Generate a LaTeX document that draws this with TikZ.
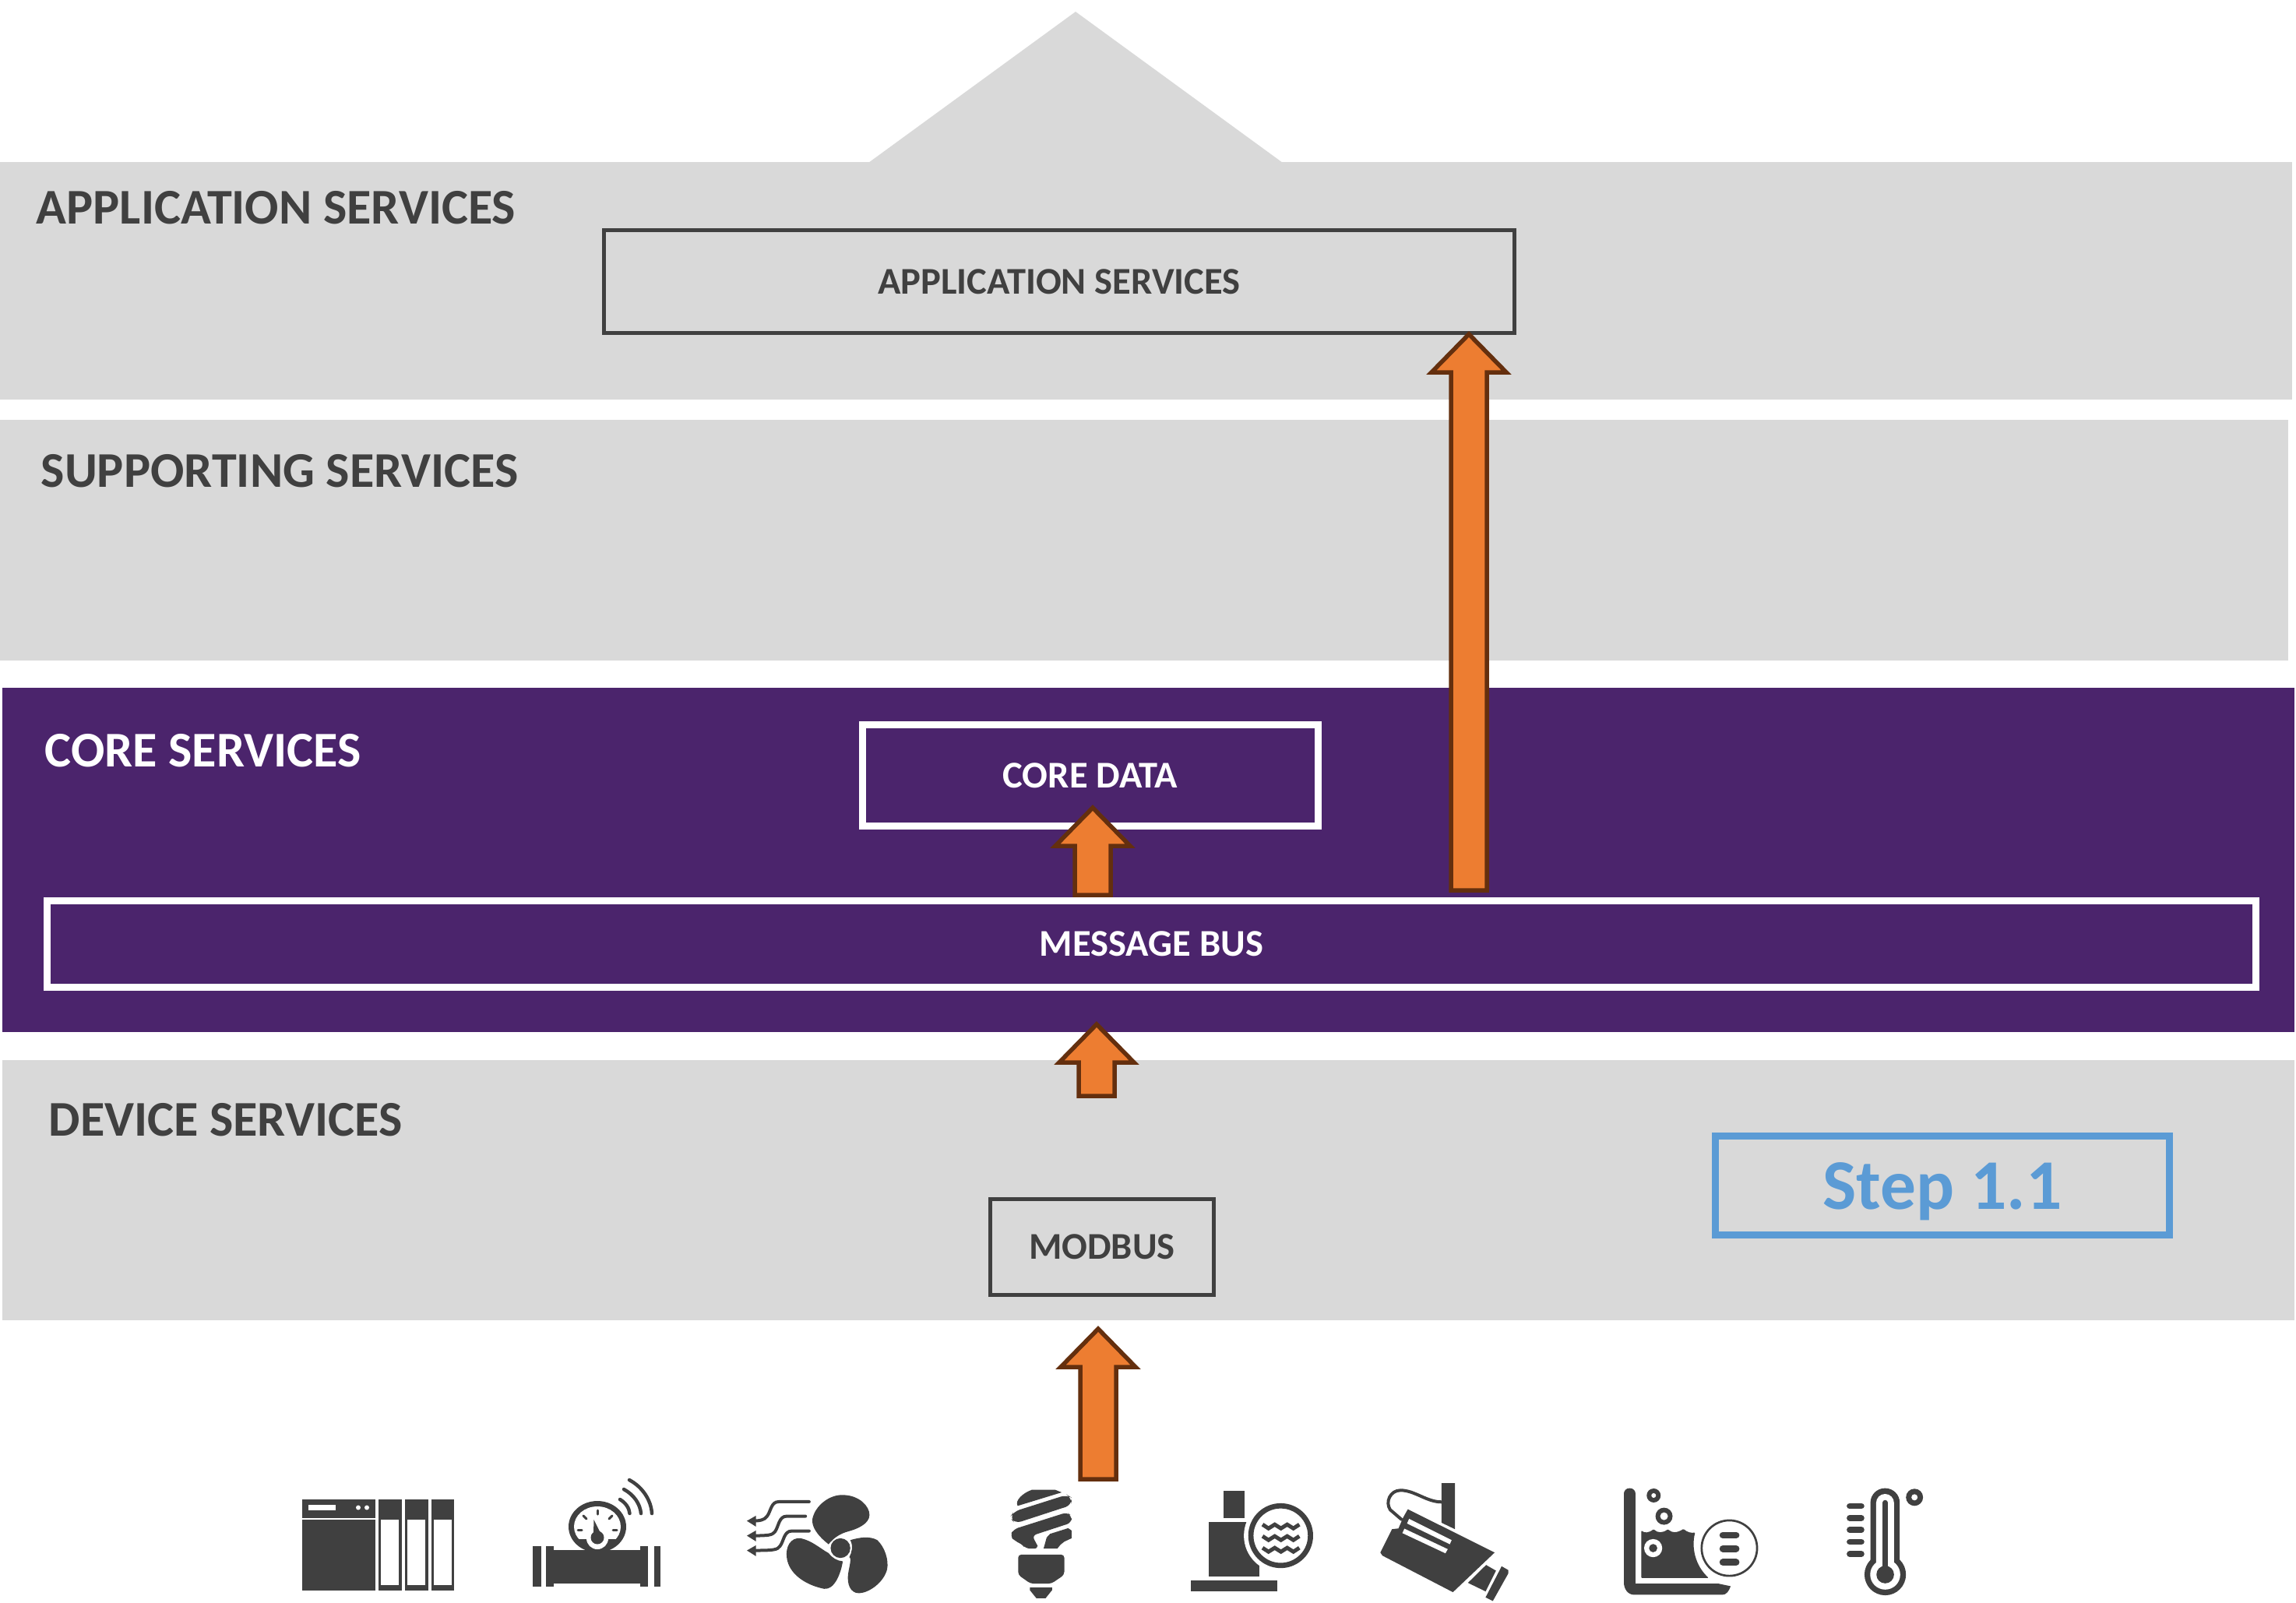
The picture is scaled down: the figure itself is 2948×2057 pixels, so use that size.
\documentclass[tikz,border=0pt]{standalone}
\usepackage{fontspec}
\setmainfont{Carlito}
\usepackage{xcolor}
\usetikzlibrary{positioning, calc}
\definecolor{layerGrey}{HTML}{D9D9D9}
\definecolor{corePurple}{HTML}{4B246C}
\definecolor{arrOrange}{HTML}{ED7D31}
\definecolor{arrBrown}{HTML}{642F0E}
\definecolor{darkText}{HTML}{404040}
\definecolor{stepBlue}{HTML}{5B9BD5}

\begin{document}
\begin{tikzpicture}[
      x=0.01cm, y=-0.01cm,
      layer/.style={rectangle, fill=layerGrey, inner sep=0pt, outer sep=0pt},
      corelayer/.style={layer, fill=corePurple},
      sectlabel/.style={anchor=base west, inner sep=0pt, text=darkText,
                        font=\fontsize{18.25}{20}\selectfont\bfseries},
      corelabel/.style={sectlabel, text=white},
      box/.style={rectangle, draw=darkText, line width=0.05cm, inner sep=0pt, outer sep=0pt,
                  text=darkText, align=center, font=\fontsize{13.8}{16}\selectfont\bfseries},
      whitebox/.style={box, draw=white, text=white, line width=0.09cm},
      stepbox/.style={box, draw=stepBlue, text=stepBlue, line width=0.085cm, text depth=0pt,
                      font=\fontsize{26}{30}\selectfont\bfseries},
      blockarr/.style={draw=arrBrown, fill=arrOrange, line width=0.055cm, to path={
          ($(\tikztostart)+(-23,0)$) -- ($(\tikztotarget)+(-23,49)$) -- ($(\tikztotarget)+(-48,49)$)
          -- (\tikztotarget) -- ($(\tikztotarget)+(48,49)$) -- ($(\tikztotarget)+(23,49)$)
          -- ($(\tikztostart)+(23,0)$) -- cycle}},
      icon/.style={fill=darkText},
      iconline/.style={draw=darkText, line cap=round, line join=round},
      zoomgrid/.style={x=0.00333cm, y=-0.00333cm},
    ]
      \useasboundingbox (0,0) rectangle (2948,2057);

      % layers
      \fill[layerGrey] (1115,209) -- (1381,15) -- (1647,209) -- cycle;
      \node[layer, minimum width=29.41cm, minimum height=3.05cm] (applayer) at (1471.5,360.5) {};
      \node[layer, minimum width=29.37cm, minimum height=3.09cm] (supportlayer) at (1468.5,693.5) {};
      \node[corelayer, minimum width=29.41cm, minimum height=4.42cm] (corelayer) at (1474.5,1104) {};
      \node[layer, minimum width=29.41cm, minimum height=3.34cm] (devlayer) at (1474.5,1528) {};

      % layer titles
      \node[sectlabel] (applabel) at (46,287) {APPLICATION SERVICES};
      \node[sectlabel] (supportlabel) at (52,625) {SUPPORTING SERVICES};
      \node[corelabel] (corelabel) at (57,984) {CORE SERVICES};
      \node[sectlabel] (devlabel) at (62,1458) {DEVICE SERVICES};

      % boxes
      \node[box, minimum width=11.68cm, minimum height=1.32cm] (appbox) at (1360,361.5) {APPLICATION SERVICES};
      \node[whitebox, minimum width=5.85cm, minimum height=1.30cm] (coredata) at (1400,995.5) {CORE DATA};
      \node[whitebox, minimum width=28.34cm, minimum height=1.11cm] (bus) at (1478.5,1212) {MESSAGE BUS};
      \node[box, minimum width=2.86cm, minimum height=1.22cm] (modbus) at (1415,1601) {MODBUS};
      \node[stepbox, minimum width=5.83cm, minimum height=1.27cm] (stepone) at (2494,1522) {Step 1.1};

      % arrow ends
      \coordinate (dataTail) at (1403,1149);
      \coordinate (dataTip) at (1403,1037);
      \coordinate (appTail) at (1886,1143);
      \coordinate (appTip) at (1886,429);
      \coordinate (busTail) at (1408,1407);
      \coordinate (busTip) at (1408,1315);
      \coordinate (sensorTail) at (1410,1899);
      \coordinate (sensorTip) at (1410,1706);

      % arrows
      \draw[blockarr] (dataTail) to (dataTip);
      \draw[blockarr] (appTail) to (appTip);
      \draw[blockarr] (busTail) to (busTip);
      \draw[blockarr] (sensorTail) to (sensorTip);

      % plc
      \fill[icon] (388,1925) rectangle (482,1949);
      \fill[icon] (388,1951) rectangle (482,2042);
      \fill[white] (396,1932) rectangle (431,1939);
      \fill[white] (460,1935.5) circle[radius=3];
      \fill[white] (471,1935.5) circle[radius=3];
      \fill[icon] (486,1925) rectangle (516,2042);
      \fill[icon] (520,1925) rectangle (550,2042);
      \fill[icon] (554,1925) rectangle (583,2042);
      \fill[white] (489,1951) rectangle (512,2035);
      \fill[white] (523,1951) rectangle (546,2035);
      \fill[white] (557,1951) rectangle (580,2035);

      % gauge on pipe
      \fill[icon] (684,1985) rectangle (695,2037);
      \fill[icon] (701,1985) rectangle (711,2037);
      \fill[icon] (711,1990) rectangle (822,2033);
      \fill[icon] (822,1985) rectangle (832,2037);
      \fill[icon] (840,1985) rectangle (848,2037);
      \fill[icon] (767,1960) ellipse[x radius=37, y radius=33];
      \begin{scope}
        \clip (730,1925) rectangle (805,1975);
        \fill[white] (767,1960) ellipse[x radius=30, y radius=26];
      \end{scope}
      \fill[white] (767,1975) ellipse[x radius=14, y radius=14];
      \fill[icon] (767,1974) ellipse[x radius=8.5, y radius=8.5];
      \fill[icon] (762.5,1951) -- (771,1968) -- (762,1968) -- cycle;
      \draw[iconline, line width=0.03cm] (767,1939) -- (767,1944);
      \draw[iconline, line width=0.03cm] (749,1946) -- (753,1950);
      \draw[iconline, line width=0.03cm] (786,1946) -- (782,1950);
      \draw[iconline, line width=0.03cm] (742,1964) -- (747,1964);
      \draw[iconline, line width=0.03cm] (787,1964) -- (792,1964);
      \draw[iconline, line width=0.045cm] (796,1925) .. controls (803,1929) and (808,1936) .. (808.5,1943);
      \draw[iconline, line width=0.045cm] (801,1912) .. controls (814,1919) and (822,1931) .. (823,1943);
      \draw[iconline, line width=0.045cm] (808,1900) .. controls (825,1909) and (836,1926) .. (837,1943);

      % fan
      \begin{scope}[shift={(940,1900)}, zoomgrid]
        \fill[icon] (372,248) .. controls (330,215) and (305,180) .. (310,150) .. controls (320,100) and (375,55) .. (430,58)
          .. controls (490,60) and (530,100) .. (530,135) .. controls (530,170) and (480,190) .. (450,198)
          .. controls (420,206) and (395,220) .. cycle;
        \fill[icon] (372,282) .. controls (340,265) and (310,235) .. (265,225) .. controls (225,220) and (205,260) .. (211,300)
          .. controls (218,360) and (280,405) .. (355,420) .. controls (395,425) and (420,360) .. (427,314)
          .. controls (405,312) and (385,300) .. cycle;
        \fill[icon] (456,232) .. controls (490,222) and (530,215) .. (560,232) .. controls (590,260) and (605,310) .. (598,345)
          .. controls (585,395) and (530,435) .. (490,437) .. controls (455,437) and (442,400) .. (448,360)
          .. controls (452,335) and (462,300) .. (452,298) .. controls (462,280) and (468,255) .. cycle;
        \fill[icon] (418,263) circle[radius=38];
        \draw[iconline, line width=0.04cm] (297,84) -- (180,84) .. controls (150,84) and (150,120) .. (135,140) .. controls (125,155) and (105,158) .. (80,158);
        \draw[iconline, line width=0.04cm] (283,140) -- (210,140) .. controls (180,140) and (180,180) .. (165,200) .. controls (155,213) and (140,215) .. (80,215);
        \draw[iconline, line width=0.04cm] (297,197) -- (230,197) .. controls (200,197) and (200,235) .. (185,255) .. controls (175,270) and (160,272) .. (80,272);
        \fill[icon] (57,158) -- (92,138) -- (92,180) -- cycle;
        \fill[icon] (57,215) -- (92,195) -- (92,237) -- cycle;
        \fill[icon] (57,272) -- (92,252) -- (92,294) -- cycle;
      \end{scope}

      % bulb
      \begin{scope}[shift={(1270,1900)}, zoomgrid]
        \fill[icon] (110,100) .. controls (98,80) and (130,50) .. (165,38) -- (255,38) -- (280,48) -- cycle;
        \fill[icon, rounded corners=0.08cm] (95,122) -- (300,57) -- (318,68) -- (318,97) -- (100,168) -- (80,145) -- cycle;
        \fill[icon, rounded corners=0.06cm] (95,190) -- (300,125) -- (318,138) -- (318,165) -- (165,215) -- (180,240) -- (192,265) -- (140,265) -- (125,245) -- (100,237) -- (80,215) -- cycle;
        \fill[icon] (235,208) -- (305,186) -- (318,195) -- (318,225) -- (290,238) -- (275,250) -- (263,265) -- (210,265) -- (222,222) -- cycle;
        \fill[icon, rounded corners=0.04cm] (112,288) -- (290,288) -- (290,366) -- (240,400) -- (160,400) -- (112,366) -- cycle;
        \fill[icon] (157,415) -- (243,415) -- (243,425) -- (218,456) -- (182,456) -- (157,425) -- cycle;
      \end{scope}

      % pump with water gauge
      \begin{scope}[shift={(1240,1880)}, zoomgrid]
        \fill[icon] (995,102) rectangle (1075,208);
        \fill[icon] (937,222) rectangle (1133,433);
        \fill[icon] (867,448) rectangle (1203,491);
        \fill[white] (1215,275) circle[radius=142];
        \draw[draw=darkText, line width=0.067cm] (1215,275) circle[radius=115];
        \draw[draw=darkText, line width=0.05cm] (1145,232) -- (1168,247) -- (1192,232) -- (1216,247) -- (1240,232) -- (1264,247) -- (1287,232);
        \draw[draw=darkText, line width=0.05cm] (1145,277) -- (1168,292) -- (1192,277) -- (1216,292) -- (1240,277) -- (1264,292) -- (1287,277);
        \draw[draw=darkText, line width=0.05cm] (1145,322) -- (1168,337) -- (1192,322) -- (1216,337) -- (1240,322) -- (1264,337) -- (1287,322);
      \end{scope}

      % camera
      \begin{scope}[shift={(1760,1890)}, zoomgrid]
        \fill[icon] (273,42) -- (325,42) -- (325,220) -- (273,195) -- cycle;
        \draw[iconline, line width=0.04cm] (273,115) .. controls (215,115) and (170,70) .. (115,70) .. controls (75,70) and (55,115) .. (75,145) -- (118,182);
        \fill[icon] (143,143) -- (478,310) -- (317,463) -- (45,322) -- (37,310) -- (82,220) -- (107,217) -- (125,175) -- cycle;
        \fill[white] (148,180) -- (312,262) -- (305,278) -- (140,198) -- cycle;
        \fill[white] (130,218) -- (297,297) -- (288,313) -- (122,235) -- cycle;
        \fill[icon] (445,358) -- (483,380) -- (443,460) -- (375,427) -- cycle;
        \fill[icon] (505,363) -- (531,378) -- (531,390) -- (471,497) -- (443,483) -- cycle;
      \end{scope}

      % tank with level gauge
      \begin{scope}[shift={(2070,1890)}, zoomgrid]
        \fill[icon, rounded corners=0.07cm] (45,62) -- (90,62) -- (90,250) -- (45,250) -- cycle;
        \fill[icon] (90,200) -- (90,430) -- (410,430) -- (457,440) .. controls (450,460) and (440,473) .. (425,473) -- (85,473) .. controls (60,473) and (45,450) .. (45,425) -- (45,200) -- cycle;
        \fill[icon] (160,90) circle[radius=27];
        \fill[white] (160,90) circle[radius=9];
        \fill[icon] (200,170) circle[radius=33];
        \fill[white] (200,170) circle[radius=15];
        \fill[icon, rounded corners=0.01cm] (112,225) .. controls (125,235) and (140,235) .. (160,220) .. controls (175,235) and (195,235) .. (215,220)
          .. controls (230,235) and (250,235) .. (275,219) .. controls (290,232) and (305,235) .. (320,233) .. controls (305,290) and (320,360) .. (372,408) -- (112,408) -- cycle;
        \fill[white] (158,293) circle[radius=35];
        \fill[icon] (158,293) circle[radius=16];
        \draw[draw=darkText, line width=0.027cm] (452,293) circle[radius=107];
        \draw[iconline, line width=0.087cm] (427,243) -- (478,243);
        \draw[iconline, line width=0.087cm] (427,295) -- (478,295);
        \draw[iconline, line width=0.087cm] (427,348) -- (478,348);
      \end{scope}

      % thermometer
      \begin{scope}[shift={(2340,1890)}, zoomgrid]
        \draw[iconline, line width=0.077cm] (105,131) -- (150,131);
        \draw[iconline, line width=0.077cm] (105,177) -- (150,177);
        \draw[iconline, line width=0.077cm] (105,223) -- (150,223);
        \draw[iconline, line width=0.077cm] (105,269) -- (150,269);
        \draw[iconline, line width=0.077cm] (105,316) -- (150,316);
        \fill[icon] (242,395) circle[radius=80];
        \fill[icon, rounded corners=0.185cm] (185,62) rectangle (298,395);
        \fill[white] (242,395) circle[radius=58];
        \fill[white, rounded corners=0.115cm] (207,84) rectangle (276,395);
        \draw[iconline, line width=0.07cm] (242,118) -- (242,395);
        \fill[icon] (242,395) circle[radius=34];
        \fill[icon] (355,97) circle[radius=33];
        \fill[white] (355,97) circle[radius=12];
      \end{scope}
    \end{tikzpicture}
\end{document}
